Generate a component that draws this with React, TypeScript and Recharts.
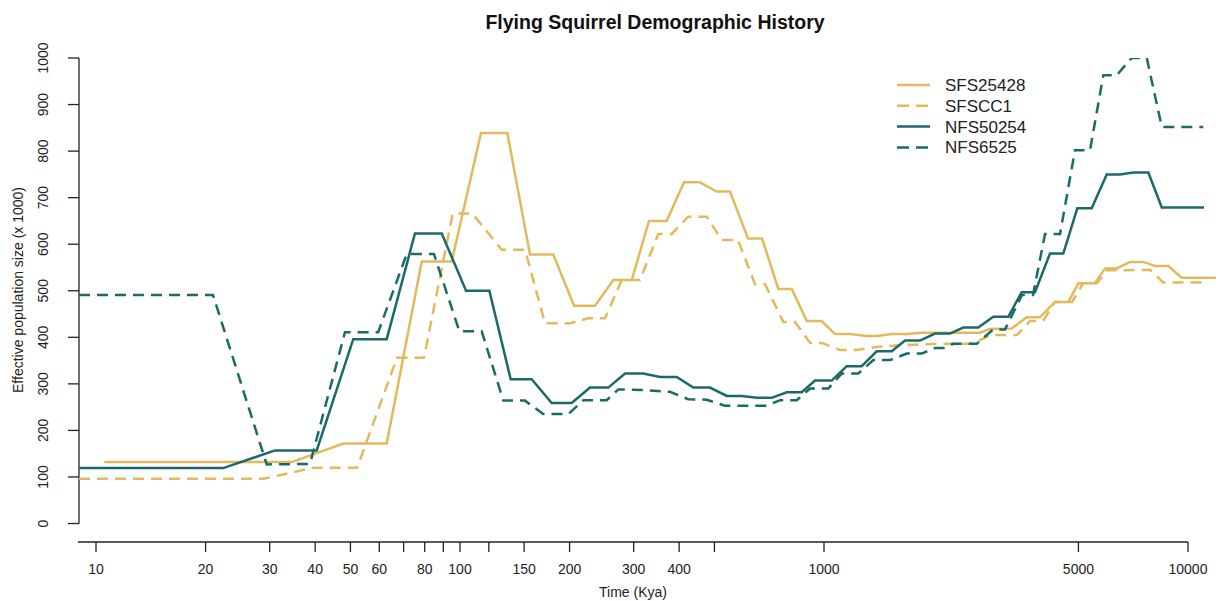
import React from 'react';
import { LineChart, Line, XAxis, YAxis, ReferenceLine } from 'recharts';

const GOLD = '#E2B95C';
const TEAL = '#1A6B68';
const AXIS = '#222222';
const FONT = '"Liberation Sans", Arial, Helvetica, sans-serif';

const sfs25428 = [
  { t: 10.54, y: 132 }, { t: 34.48, y: 132 }, { t: 47.8, y: 172 }, { t: 62.9, y: 172 },
  { t: 78.5, y: 563 }, { t: 94.9, y: 563 }, { t: 114.2, y: 839 }, { t: 134.9, y: 839 },
  { t: 155.7, y: 578 }, { t: 180.4, y: 578 }, { t: 205.7, y: 468 }, { t: 234.9, y: 468 },
  { t: 263.8, y: 523 }, { t: 296.4, y: 523 }, { t: 330.5, y: 650 }, { t: 369.7, y: 650 },
  { t: 412.5, y: 733 }, { t: 456.3, y: 733 }, { t: 507.2, y: 713 }, { t: 551.8, y: 713 },
  { t: 618.4, y: 612 }, { t: 675.8, y: 612 }, { t: 749.2, y: 504 }, { t: 815.5, y: 504 },
  { t: 896.6, y: 435 }, { t: 985.6, y: 435 }, { t: 1072, y: 407 }, { t: 1178.6, y: 407 },
  { t: 1310, y: 403 }, { t: 1395.7, y: 403 }, { t: 1534.7, y: 407 }, { t: 1687.6, y: 407 },
  { t: 1855.3, y: 410 }, { t: 2219, y: 410 }, { t: 2682, y: 410 }, { t: 2858, y: 418 },
  { t: 3279, y: 419 }, { t: 3605, y: 443 }, { t: 3921, y: 443 }, { t: 4312, y: 476 },
  { t: 4691, y: 476 }, { t: 4996, y: 516 }, { t: 5553, y: 516 }, { t: 5916, y: 548 },
  { t: 6370, y: 548 }, { t: 6929, y: 562 }, { t: 7540, y: 562 }, { t: 8120, y: 553 },
  { t: 8830, y: 553 }, { t: 9609, y: 528 }, { t: 11938, y: 528 },
];

const sfscc1 = [
  { t: 8.98, y: 96 }, { t: 28.82, y: 96 }, { t: 39.54, y: 120 }, { t: 52.2, y: 120 },
  { t: 67.1, y: 356 }, { t: 79.6, y: 356 }, { t: 95.5, y: 666 }, { t: 108.1, y: 666 },
  { t: 130.2, y: 588 }, { t: 150.9, y: 588 }, { t: 171.2, y: 430 }, { t: 200.6, y: 430 },
  { t: 225.2, y: 441 }, { t: 250.3, y: 441 }, { t: 278.2, y: 523 }, { t: 312.2, y: 523 },
  { t: 350.6, y: 622 }, { t: 381.6, y: 622 }, { t: 423.8, y: 659 }, { t: 476.1, y: 659 },
  { t: 523.6, y: 609 }, { t: 580.4, y: 609 }, { t: 646.4, y: 514 }, { t: 688.6, y: 514 },
  { t: 773.2, y: 433 }, { t: 832.6, y: 433 }, { t: 915.4, y: 388 }, { t: 985.6, y: 388 },
  { t: 1106.5, y: 373 }, { t: 1229.6, y: 373 }, { t: 1425, y: 380 }, { t: 1617.6, y: 383 },
  { t: 2083, y: 386 }, { t: 2566, y: 386 }, { t: 2858, y: 405 }, { t: 3390, y: 405 },
  { t: 3681, y: 435 }, { t: 3996, y: 435 }, { t: 4312, y: 476 }, { t: 4801, y: 476 },
  { t: 5147, y: 516 }, { t: 5624, y: 516 }, { t: 5992, y: 544 }, { t: 6798, y: 544 },
  { t: 7866, y: 545 }, { t: 8541, y: 518 }, { t: 11277, y: 518 },
];

const nfs50254 = [
  { t: 8.98, y: 119 }, { t: 22.37, y: 119 }, { t: 31.03, y: 157 }, { t: 40.4, y: 157 },
  { t: 50.9, y: 396 }, { t: 62.9, y: 396 }, { t: 75.2, y: 623 }, { t: 89.1, y: 623 },
  { t: 103.9, y: 500 }, { t: 120.4, y: 500 }, { t: 137.8, y: 310 }, { t: 157.4, y: 310 },
  { t: 178.6, y: 259 }, { t: 202.7, y: 259 }, { t: 227.6, y: 292 }, { t: 255.5, y: 292 },
  { t: 284.1, y: 322 }, { t: 318.8, y: 322 }, { t: 354.4, y: 315 }, { t: 393.8, y: 315 },
  { t: 437.4, y: 292 }, { t: 486.1, y: 292 }, { t: 540.4, y: 274 }, { t: 594.2, y: 274 },
  { t: 653.4, y: 270 }, { t: 718.4, y: 270 }, { t: 790.1, y: 282 }, { t: 868.6, y: 282 },
  { t: 944.7, y: 307 }, { t: 1050, y: 307 }, { t: 1154.4, y: 338 }, { t: 1269.2, y: 338 },
  { t: 1395.7, y: 370 }, { t: 1534.7, y: 370 }, { t: 1669.5, y: 393 }, { t: 1835.4, y: 393 },
  { t: 2018, y: 408 }, { t: 2219, y: 408 }, { t: 2414, y: 421 }, { t: 2654, y: 421 },
  { t: 2918, y: 444 }, { t: 3209, y: 444 }, { t: 3491, y: 497 }, { t: 3799, y: 497 },
  { t: 4177, y: 580 }, { t: 4544, y: 580 }, { t: 4965, y: 677 }, { t: 5438, y: 677 },
  { t: 5980, y: 750 }, { t: 6505, y: 750 }, { t: 7074, y: 754 }, { t: 7783, y: 754 },
  { t: 8471, y: 679 }, { t: 11066, y: 679 },
];

const nfs6525 = [
  { t: 8.98, y: 491 }, { t: 20.96, y: 491 }, { t: 29.44, y: 127 }, { t: 38.71, y: 128 },
  { t: 48.3, y: 411 }, { t: 59.6, y: 411 }, { t: 71.4, y: 579 }, { t: 84.8, y: 579 },
  { t: 99.6, y: 413 }, { t: 114.7, y: 413 }, { t: 131.5, y: 264 }, { t: 150.9, y: 264 },
  { t: 169.3, y: 235 }, { t: 198.4, y: 235 }, { t: 218.2, y: 265 }, { t: 252.9, y: 265 },
  { t: 272.3, y: 288 }, { t: 315.6, y: 287 }, { t: 377.5, y: 283 }, { t: 423.8, y: 267 },
  { t: 476.1, y: 266 }, { t: 534.6, y: 253 }, { t: 696.1, y: 253 }, { t: 757.2, y: 265 },
  { t: 841.7, y: 265 }, { t: 915.4, y: 290 }, { t: 1027.6, y: 290 }, { t: 1118.4, y: 322 },
  { t: 1242.1, y: 322 }, { t: 1365.8, y: 351 }, { t: 1518.5, y: 351 }, { t: 1687.6, y: 365 },
  { t: 1855.3, y: 365 }, { t: 2018, y: 377 }, { t: 2149, y: 377 }, { t: 2265, y: 386 },
  { t: 2627, y: 386 }, { t: 2918, y: 417 }, { t: 3143, y: 417 }, { t: 3499, y: 491 },
  { t: 3752, y: 491 }, { t: 4047, y: 622 }, { t: 4451, y: 622 }, { t: 4893, y: 802 },
  { t: 5381, y: 802 }, { t: 5853, y: 963 }, { t: 6370, y: 963 }, { t: 7003, y: 1000 },
  { t: 7704, y: 1000 }, { t: 8471, y: 852 }, { t: 11015, y: 852 },
];

const seriesNames = ['SFS25428', 'SFSCC1', 'NFS50254', 'NFS6525'];
const seriesColors = [GOLD, GOLD, TEAL, TEAL];
const seriesDashes = ['', '11 7', '', '11 7'];

const xTicks = [10, 20, 30, 40, 50, 60, 70, 80, 90, 100, 120, 150, 200, 300, 400, 500, 1000, 5000, 10000];
const xTickLabels = ['10', '20', '30', '40', '50', '60', '', '80', '', '100', '', '150', '200', '300', '400', '', '1000', '5000', '10000'];
const yTicks = [0, 100, 200, 300, 400, 500, 600, 700, 800, 900, 1000];

const X_MIN = 8.98;
const X_MAX = 12090;
const Y_MIN = -39.7;
const Y_MAX = 1000;

const XTick = (props: any) => {
  const { x, payload } = props;
  const i = xTicks.indexOf(payload.value);
  const label = i >= 0 ? xTickLabels[i] : '';
  return (
    <text x={x} y={574} textAnchor="middle" fontSize={14} fill={AXIS} fontFamily={FONT}>
      {label}
    </text>
  );
};

const YTick = (props: any) => {
  const { y, payload } = props;
  return (
    <text transform={`translate(48, ${y}) rotate(-90)`} textAnchor="middle" fontSize={14} fill={AXIS} fontFamily={FONT}>
      {payload.value}
    </text>
  );
};

const XTitle = () => (
  <text x={633} y={597} textAnchor="middle" fontSize={14} fill={AXIS} fontFamily={FONT}>
    Time (Kya)
  </text>
);

const YTitle = () => (
  <text transform="translate(23, 290) rotate(-90)" textAnchor="middle" fontSize={14} fill={AXIS} fontFamily={FONT}>
    Effective population size (x 1000)
  </text>
);

const Overlay = () => (
  <svg width={1218} height={601} style={{ position: 'absolute', left: 0, top: 0, pointerEvents: 'none' }}>
    <text x={655} y={29} textAnchor="middle" fontSize={19.5} fontWeight="bold" fill="#111" fontFamily={FONT}>
      Flying Squirrel Demographic History
    </text>
    {seriesNames.map((name, i) => (
      <g key={name}>
        <line
          x1={897}
          x2={930}
          y1={85 + i * 20.8}
          y2={85 + i * 20.8}
          stroke={seriesColors[i]}
          strokeWidth={2.5}
          strokeDasharray={seriesDashes[i] ? '12 7' : undefined}
        />
        <text x={945} y={85 + i * 20.8 + 6} fontSize={17} fill={AXIS} fontFamily={FONT}>
          {name}
        </text>
      </g>
    ))}
  </svg>
);

export default function App() {
  const series = [sfs25428, sfscc1, nfs50254, nfs6525];
  return (
    <div style={{ position: 'absolute', left: 0, top: 0, width: 1218, height: 601, background: '#fff' }}>
      <LineChart width={1218} height={601} margin={{ top: 58, right: 0, bottom: 0, left: 0 }}>
        <XAxis
          dataKey="t"
          type="number"
          scale="log"
          domain={[X_MIN, X_MAX]}
          allowDataOverflow
          ticks={xTicks}
          interval={0}
          height={59}
          axisLine={false}
          tickSize={10}
          tickLine={{ stroke: AXIS, strokeWidth: 1.3 }}
          tick={<XTick />}
          label={<XTitle />}
        />
        <YAxis
          type="number"
          domain={[Y_MIN, Y_MAX]}
          allowDataOverflow
          ticks={yTicks}
          interval={0}
          width={79}
          axisLine={false}
          tickSize={11}
          tickLine={{ stroke: AXIS, strokeWidth: 1.3 }}
          tick={<YTick />}
          label={<YTitle />}
        />
        <ReferenceLine
          segment={[{ x: X_MIN, y: 0 }, { x: X_MIN, y: 1000 }]}
          stroke={AXIS}
          strokeWidth={1.3}
          ifOverflow="visible"
        />
        <ReferenceLine
          segment={[{ x: 8.92, y: Y_MIN }, { x: 10000, y: Y_MIN }]}
          stroke={AXIS}
          strokeWidth={1.3}
          ifOverflow="visible"
        />
        {series.map((d, i) => (
          <Line
            key={seriesNames[i]}
            data={d}
            dataKey="y"
            name={seriesNames[i]}
            type="linear"
            stroke={seriesColors[i]}
            strokeWidth={2.5}
            strokeDasharray={seriesDashes[i] || undefined}
            dot={false}
            activeDot={false}
            isAnimationActive={false}
          />
        ))}
      </LineChart>
      <Overlay />
    </div>
  );
}
